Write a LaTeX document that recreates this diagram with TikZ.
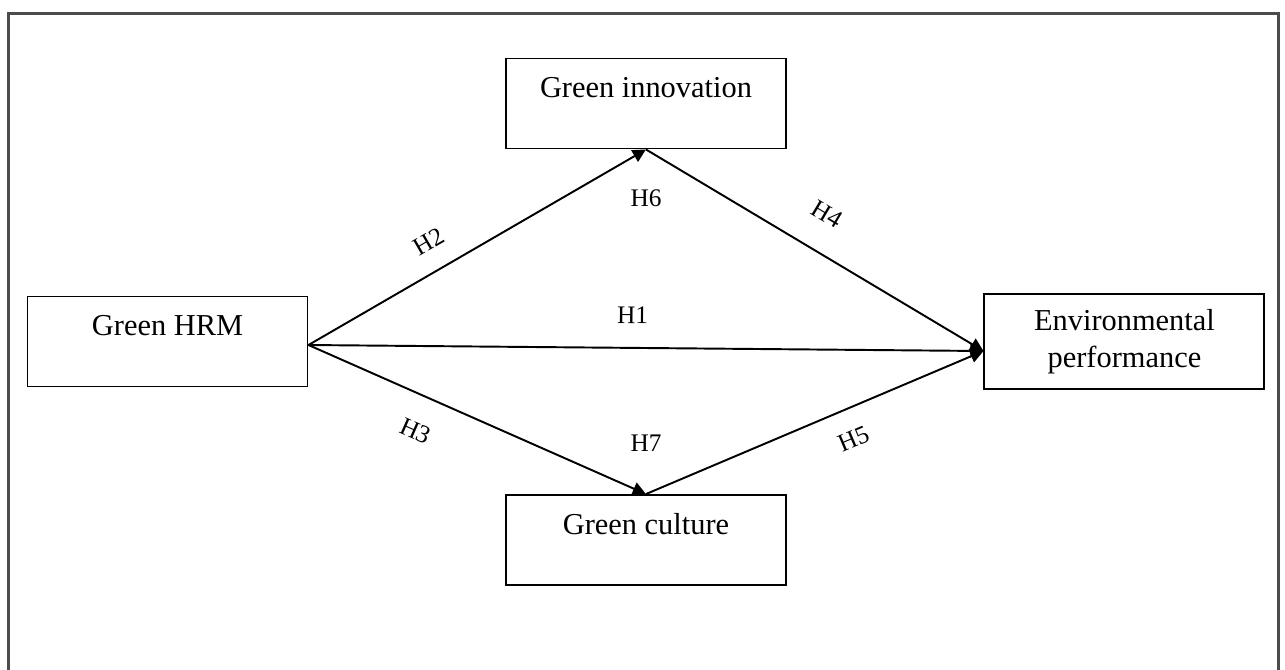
\documentclass[tikz,border=0pt]{standalone}
\usepackage{fontspec}
\setmainfont{Liberation Serif}
\usetikzlibrary{positioning,arrows.meta,calc}

\begin{document}
\begin{tikzpicture}[
      box/.style={draw, rectangle, line width=1.1pt, minimum width=5.6cm, minimum height=1.8cm, align=center, font=\fontsize{17.3}{21}\selectfont},
      onerow/.style={box, text height=0.45cm, text depth=0.69cm},
      link/.style={-{Triangle[length=7.5pt,width=7.5pt]}, line width=1.1pt},
      hyp/.style={font=\fontsize{14.4}{17}\selectfont},
      >=Stealth
    ]
    \useasboundingbox (0,0) rectangle (25.7,-13.38);
    \draw[line width=1.7pt, black!70] (0.17,-0.26) rectangle (25.56,-13.7);

    \node[onerow] (hrm) at (3.35,-6.83) {Green HRM};
    \node[box,minimum height=1.9cm,right=13.5cm of hrm] (env) {Environmental\\performance};
    \node[onerow] (innov) at ([yshift=4.76cm]$(hrm)!0.5!(env)$) {Green innovation};
    \node[onerow] (cult) at ([yshift=-3.97cm]$(hrm)!0.5!(env)$) {Green culture};
    \node[hyp,below=0.69cm of innov] (h6) {H6};
    \node[hyp,above=0.73cm of cult] (h7) {H7};

    \coordinate (src) at ([yshift=-0.07cm]hrm.east);
    \coordinate (dst) at ([yshift=-0.19cm]env.west);

    \draw[link] (src) -- node[hyp,sloped,above=0.27cm,pos=0.40] {H2} (innov.south);
    \draw[link] (src) -- node[hyp,sloped,above=0.35cm,pos=0.48] {H1} (dst);
    \draw[link] (src) -- node[hyp,sloped,below=0.4cm,pos=0.36] {H3} (cult.north);
    \draw[link] (innov.south) -- node[hyp,sloped,above=0.45cm,pos=0.48] {H4} (dst);
    \draw[link] (cult.north) -- node[hyp,sloped,below=0.3cm,pos=0.58] {H5} (dst);
  \end{tikzpicture}
\end{document}
